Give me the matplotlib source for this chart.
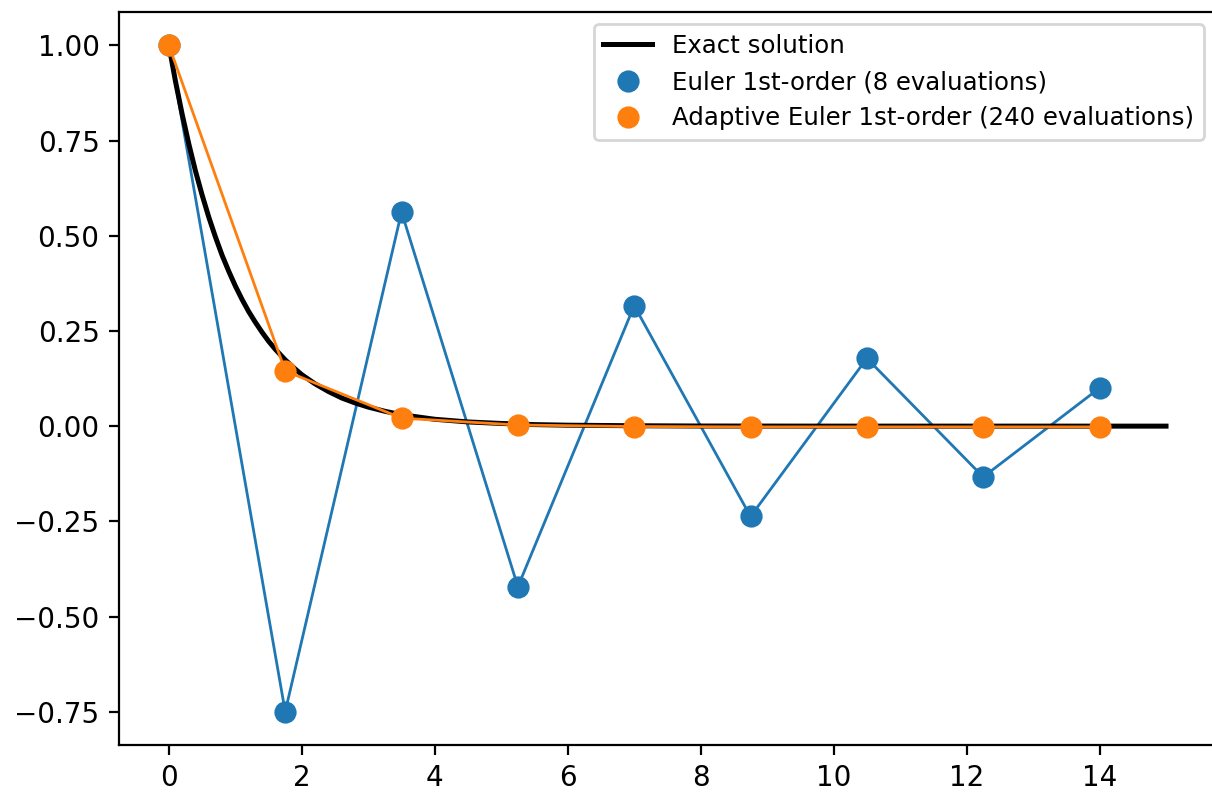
import numpy as np
import matplotlib
matplotlib.use('Agg')
import matplotlib.pyplot as plt

# exact solution, values
t_exact = [0, 0.1, 0.2, 0.3, 0.4, 0.5, 0.6, 0.7, 0.8, 0.9, 1.0, 1.1, 1.2, 1.3, 1.4, 1.5,
           1.6, 1.75, 1.9, 2.0, 2.2, 2.4, 2.6, 2.8, 3.0, 3.25, 3.5, 3.75, 4.0, 4.5, 5.0,
           5.5, 6.0, 7.0, 8.0, 10.0, 12.0, 15.0]
y_exact = [1.0, 0.905, 0.819, 0.741, 0.670, 0.607, 0.549, 0.497, 0.449, 0.407, 0.368,
           0.333, 0.301, 0.273, 0.247, 0.223, 0.202, 0.174, 0.150, 0.135, 0.111, 0.091,
           0.074, 0.061, 0.050, 0.039, 0.030, 0.024, 0.018, 0.011, 0.007, 0.004, 0.0025,
           0.001, 0.0003, 0.0, 0.0, 0.0]

# Euler, 8 steps of h=1.75
t_euler = [0, 1.75, 3.5, 5.25, 7.0, 8.75, 10.5, 12.25, 14.0]
y_euler = [1.0, -0.75, 0.5625, -0.4219, 0.3164, -0.2373, 0.178, -0.1335, 0.1001]

# adaptive Euler, output at same points
t_adapt = [0, 1.75, 3.5, 5.25, 7.0, 8.75, 10.5, 12.25, 14.0]
y_adapt = [1.0, 0.145, 0.021, 0.003, -0.001, -0.002, -0.002, -0.002, -0.002]

fig = plt.figure(figsize=(6.06, 3.96), dpi=200)
ax = fig.add_axes([0.0982, 0.0593, 0.905, 0.9255])

ax.plot(t_exact, y_exact, color='black', lw=1.8, label='Exact solution', zorder=2)
ax.plot(t_euler, y_euler, color='#1f77b4', lw=1, zorder=1)
ax.plot(t_euler, y_euler, 'o', color='#1f77b4', ms=7, label='Euler 1st-order (8 evaluations)', zorder=3)
ax.plot(t_adapt, y_adapt, color='#ff7f0e', lw=1, zorder=2)
ax.plot(t_adapt, y_adapt, 'o', color='#ff7f0e', ms=7,
        label='Adaptive Euler 1st-order (240 evaluations)', zorder=4)

ax.set_xticks([0, 2, 4, 6, 8, 10, 12, 14])
ax.set_yticks([-0.75, -0.5, -0.25, 0, 0.25, 0.5, 0.75, 1.0])
ax.legend(loc='upper right', fontsize=8.8)

fig.savefig('out.png', dpi=200)
